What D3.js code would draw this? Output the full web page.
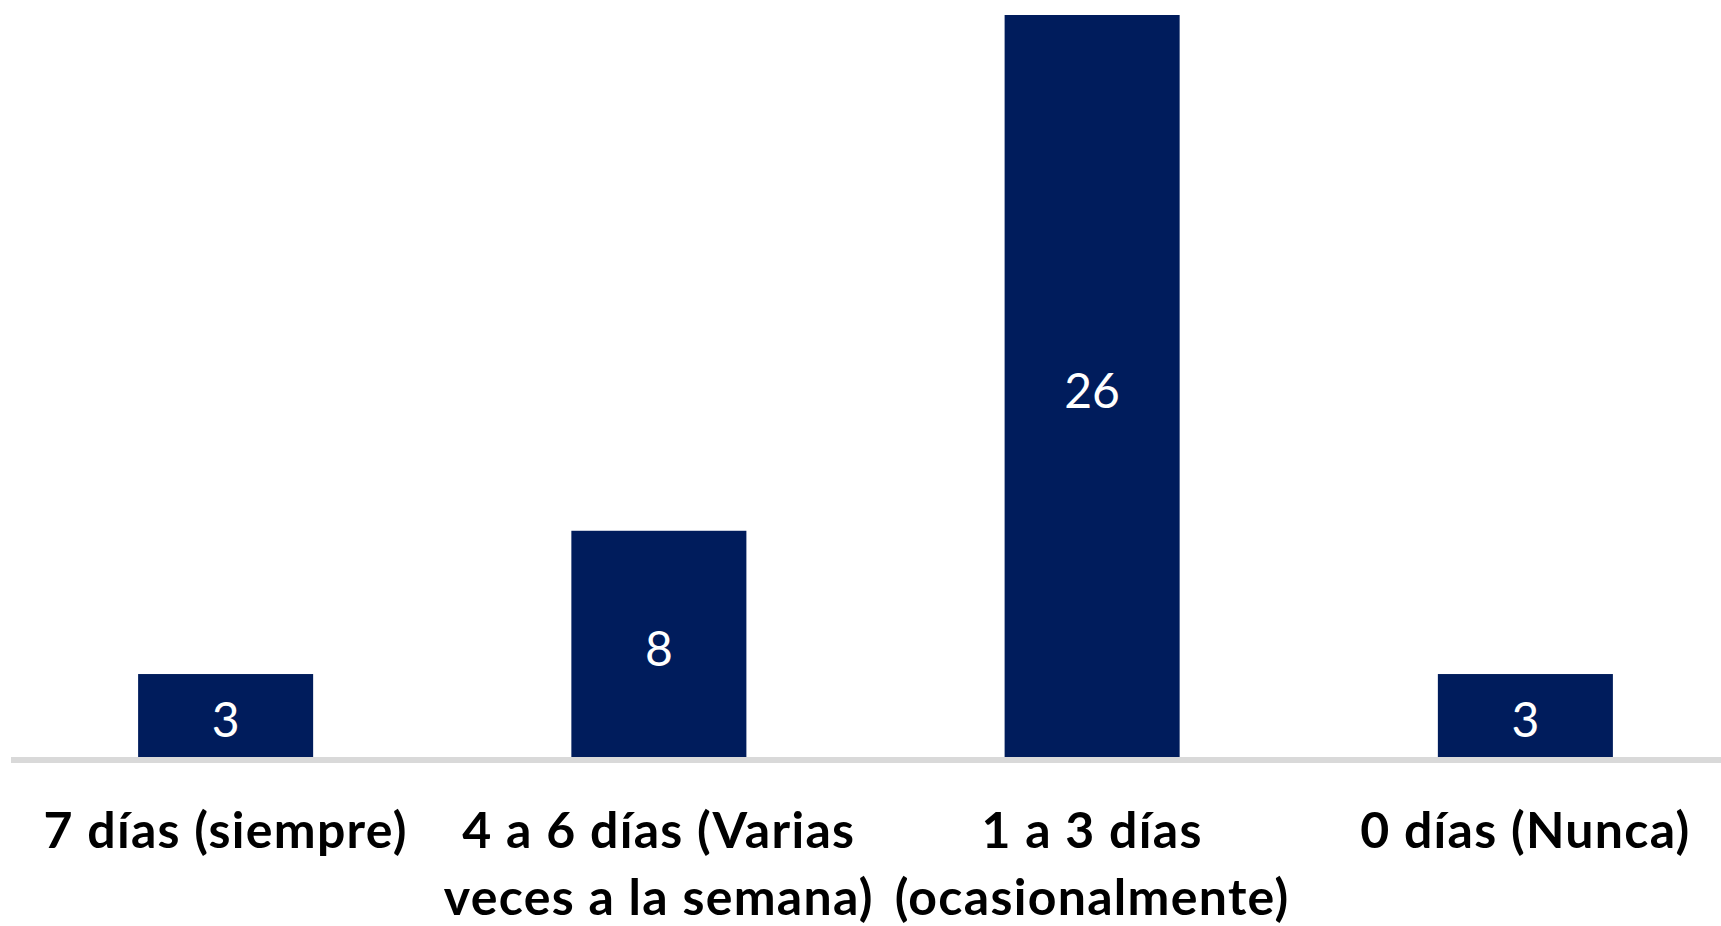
<!DOCTYPE html>
<html>
<head>
<meta charset="utf-8">
<script src="https://cdn.jsdelivr.net/npm/d3@7"></script>
<style>
  html, body { margin: 0; padding: 0; background: #ffffff; }
  svg { display: block; }
</style>
</head>
<body>
<script>
// Frequency of days per week
const categories = [
  ["7 días (siempre)"],
  ["4 a 6 días (Varias", "veces a la semana)"],
  ["1 a 3 días", "(ocasionalmente)"],
  ["0 días (Nunca)"]
];
const values = [3, 8, 26, 3];

const W = 1721, H = 926;
const barColor = "#001c5c";

const svg = d3.select("body").append("svg")
  .attr("width", W).attr("height", H);

const x = d3.scaleBand()
  .domain(d3.range(categories.length))
  .range([9, 1742])
  .paddingInner(0.596)
  .paddingOuter(0.298);

const y = d3.scaleLinear()
  .domain([0, d3.max(values)])
  .range([760, 15]);

// bars
svg.append("g").selectAll("rect")
  .data(values)
  .join("rect")
  .attr("x", (d, i) => x(i))
  .attr("width", x.bandwidth())
  .attr("y", d => y(d))
  .attr("height", d => y(0) - y(d))
  .attr("fill", barColor);

// baseline
svg.append("line")
  .attr("x1", 11).attr("x2", W)
  .attr("y1", y(0)).attr("y2", y(0))
  .attr("stroke", "#d9d9d9")
  .attr("stroke-width", 6);

// value labels, centred in each bar
svg.append("g").selectAll("text")
  .data(values)
  .join("text")
  .attr("x", (d, i) => x(i) + x.bandwidth() / 2)
  .attr("y", d => (y(d) + y(0)) / 2)
  .attr("dy", "0.42em")
  .attr("text-anchor", "middle")
  .attr("fill", "#ffffff")
  .style("font-family", "Lato, 'Open Sans', sans-serif")
  .style("font-size", "48px")
  .text(d => d);

// category labels
const labelG = svg.append("g");
categories.forEach((lines, i) => {
  const t = labelG.append("text")
    .attr("text-anchor", "middle")
    .attr("fill", "#000000")
    .style("font-family", "Lato, 'Open Sans', sans-serif")
    .style("font-weight", "bold")
    .style("font-size", "50px")
    .style("letter-spacing", "1.3px");
  lines.forEach((ln, j) => {
    t.append("tspan")
      .attr("x", x(i) + x.bandwidth() / 2)
      .attr("y", 848 + j * 67)
      .text(ln);
  });
});
</script>
</body>
</html>
